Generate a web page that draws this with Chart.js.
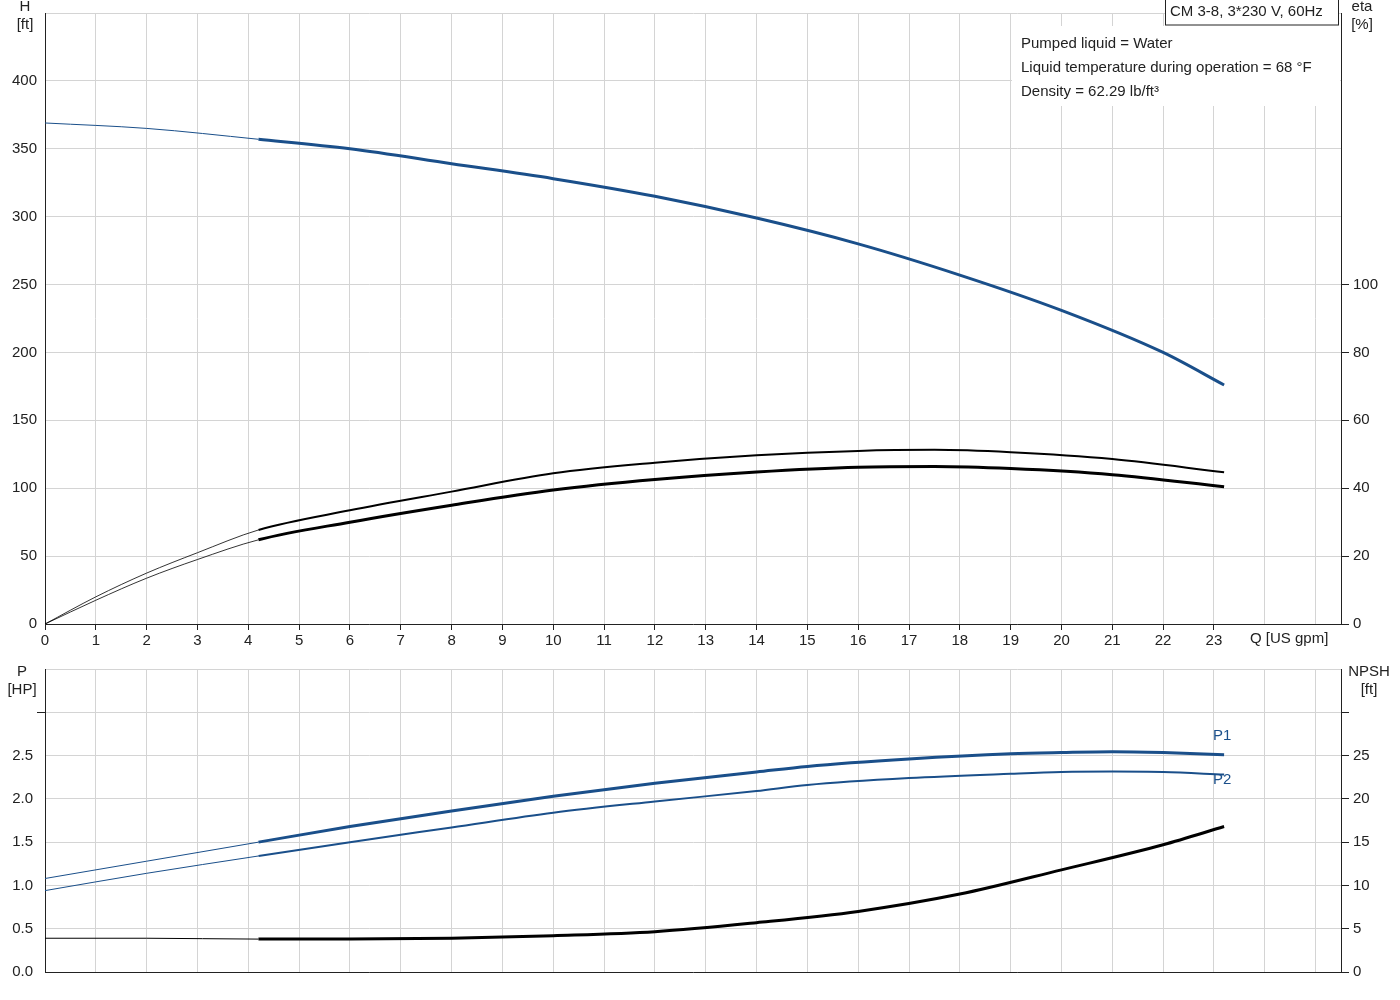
<!DOCTYPE html>
<html><head><meta charset="utf-8">
<script src="https://cdn.jsdelivr.net/npm/chart.js@4"></script>
<style>body{margin:0;background:#fff;width:1400px;height:1000px;overflow:hidden}
canvas{position:absolute;left:0;top:0}</style></head><body>
<div style="position:absolute;left:0;top:0;width:1400px;height:656px"><canvas id="c1" width="1400" height="656" style="width:1400px;height:656px"></canvas></div>
<div style="position:absolute;left:0;top:656px;width:1400px;height:344px"><canvas id="c2" width="1400" height="344" style="width:1400px;height:344px"></canvas></div>
<script>
const qH=[0,2,4.2,6,8,10,12,14,16,18,20,22,23.2];
const headFt=[369,365,357,350,339,328,315,299,280,257,231,200,176];
const qE=[0,1,2,3,4.2,6,8,10,12,14,16,17.5,19,21,23.2];
const etaTotal=[0,8,15,21,27.7,33.5,39,44.4,47.5,49.7,51,51.3,50.6,48.6,44.7];
const etaPump=[0,7,13.5,19,24.8,30,35,39.5,42.6,44.8,46.2,46.4,45.8,44,40.4];
const qP=[0,2,4.2,6,8,10,12,14,15,17,19,20,21,22,23.2];
const p1HP=[1.08,1.28,1.5,1.68,1.86,2.03,2.18,2.31,2.375,2.46,2.52,2.535,2.545,2.535,2.51];
const p2HP=[0.94,1.14,1.34,1.5,1.67,1.84,1.97,2.09,2.16,2.24,2.29,2.31,2.315,2.31,2.28];
const qN=[0,2,4.2,6,8,10,12,14,16,18,20,22,23.2];
const npshFt=[3.9,3.9,3.8,3.8,3.9,4.2,4.66,5.7,7.0,9.0,11.8,14.7,16.8];
const xTicks=[0,1,2,3,4,5,6,7,8,9,10,11,12,13,14,15,16,17,18,19,20,21,22,23];
const BLUE='#1a4f8a', GRID='#d4d4d4', FONT={family:'Arial, "Liberation Sans"',size:15};
Chart.defaults.font=FONT; Chart.defaults.color='#222';
const pts=(xs,ys)=>xs.map((x,i)=>({x,y:ys[i]}));
const seg=(thin,thick)=>({borderWidth:c=>c.p0.parsed.x<4.19?thin:thick});
function ds(d,color,thin,thick,axis){return {data:d,borderColor:color,yAxisID:axis,pointRadius:0,cubicInterpolationMode:'monotone',borderWidth:thick,segment:seg(thin,thick),fill:false};}
const fit=(w,h)=>s=>{if(w!=null)s.width=w;if(h!=null)s.height=h;};
const xScale=(showLabels,h)=>({type:'linear',min:0,max:25.5,afterFit:fit(null,h),
 afterBuildTicks:s=>{s.ticks=[];for(let i=0;i<=25;i++)s.ticks.push({value:i});},
 ticks:{display:showLabels,autoSkip:false,maxRotation:0,padding:2,callback:v=>xTicks.includes(v)?String(v):''},
 grid:{color:GRID,tickLength:6,tickColor:c=>(showLabels&&c.tick&&c.tick.value<=23)?'#222':'rgba(0,0,0,0)'},
 border:{color:'#222'}});
const text=(id,fn)=>({id,afterDraw(ch){const c=ch.ctx;c.save();c.font='15px Arial, "Liberation Sans"';c.fillStyle='#222';fn(c,ch);c.restore();}});
new Chart(document.getElementById('c1'),{type:'line',
 data:{datasets:[ds(pts(qH,headFt),BLUE,1,3,'y'),ds(pts(qE,etaTotal),'#000',0.8,2,'y2'),ds(pts(qE,etaPump),'#000',0.8,3,'y2')]},
 options:{responsive:false,animation:false,layout:{padding:0},plugins:{legend:{display:false},tooltip:{enabled:false}},
 scales:{x:xScale(true,32),
 y:{min:0,max:450,position:'left',afterFit:fit(45),afterBuildTicks:s=>{s.ticks=[0,50,100,150,200,250,300,350,400,450].map(v=>({value:v}));},
   ticks:{padding:4,callback:v=>v<=400?String(v):''},grid:{color:GRID,tickLength:4,tickColor:'rgba(0,0,0,0)'},border:{color:'#222'}},
 y2:{min:0,max:180,position:'right',afterFit:fit(59),afterBuildTicks:s=>{s.ticks=[0,20,40,60,80,100].map(v=>({value:v}));},
   ticks:{padding:4},grid:{drawOnChartArea:false,tickLength:8,tickColor:'#222'},border:{color:'#222'}}}},
 plugins:[{id:'bg',beforeDraw(ch){const c=ch.ctx;c.save();c.fillStyle='#fff';c.fillRect(0,0,1400,656);c.restore();}},
 text('t1',(c)=>{c.textBaseline='middle';c.textAlign='center';
  c.fillStyle='#fff';c.fillRect(10,0,34,34);c.fillStyle='#222';
  c.fillText('H',25,7);c.fillText('[ft]',25,25);
  c.fillText('eta',1362,7);c.fillText('[%]',1362,25);c.textAlign='left';c.fillText('Q [US gpm]',1250,639);
  c.fillStyle='#fff';c.fillRect(1012,26,328,80);c.fillRect(1165,0,174,26);
  c.strokeStyle='#222';c.lineWidth=1;c.strokeRect(1165.5,-1,173,26);
  c.fillStyle='#222';c.fillText('CM 3-8, 3*230 V, 60Hz',1170,12);
  c.fillText('Pumped liquid = Water',1021,44);c.fillText('Liquid temperature during operation = 68 °F',1021,68);c.fillText('Density = 62.29 lb/ft³',1021,92);})]});
new Chart(document.getElementById('c2'),{type:'line',
 data:{datasets:[ds(pts(qP,p1HP),BLUE,1,3,'y'),ds(pts(qP,p2HP),BLUE,1,2,'y'),ds(pts(qN,npshFt),'#000',1,3,'y2')]},
 options:{responsive:false,animation:false,layout:{padding:{top:9}},plugins:{legend:{display:false},tooltip:{enabled:false}},
 scales:{x:xScale(false,28),
 y:{min:0,max:3.5,position:'left',afterFit:fit(45),afterBuildTicks:s=>{s.ticks=[0,0.5,1,1.5,2,2.5,3,3.5].map(v=>({value:v}));},
   ticks:{padding:4,callback:v=>v<=2.5?v.toFixed(1):''},grid:{color:GRID,tickLength:8,tickColor:c=>c.tick&&c.tick.value==3?'#222':'rgba(0,0,0,0)'},border:{color:'#222'}},
 y2:{min:0,max:35,position:'right',afterFit:fit(59),afterBuildTicks:s=>{s.ticks=[0,5,10,15,20,25,30].map(v=>({value:v}));},
   ticks:{padding:4,callback:v=>v<=25?String(v):''},grid:{drawOnChartArea:false,tickLength:8,tickColor:'#222'},border:{color:'#222'}}}},
 plugins:[{id:'bg2',beforeDraw(ch){const c=ch.ctx;c.save();c.fillStyle='#fff';c.fillRect(0,0,1400,344);c.restore();}},
 text('t2',(c)=>{c.textBaseline='middle';c.textAlign='center';c.fillText('P',22,16);c.fillText('[HP]',22,34);
  c.fillText('NPSH',1369,16);c.fillText('[ft]',1369,34);c.textAlign='left';c.fillStyle=BLUE;c.fillText('P1',1213,80);c.fillText('P2',1213,124);})]});
</script></body></html>
